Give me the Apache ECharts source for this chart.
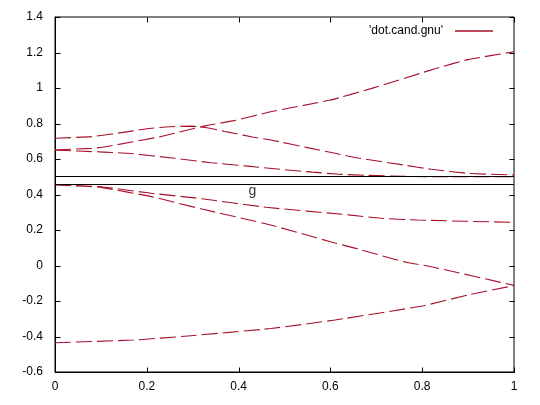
<!DOCTYPE html>
<html><head><meta charset="utf-8">
<script src="https://cdn.jsdelivr.net/npm/echarts@6/dist/echarts.min.js"></script>
<style>html,body{margin:0;padding:0;background:#fff}#c{width:540px;height:405px}</style>
</head><body><div id="c"></div>
<script>
// Data
const seriesName = "'dot.cand.gnu'";
const xTicks = [0, 0.2, 0.4, 0.6, 0.8, 1];
const yTicks = [-0.6, -0.4, -0.2, 0, 0.2, 0.4, 0.6, 0.8, 1, 1.2, 1.4];

const curveP_x = [0, 0.08, 0.16, 0.2, 0.25, 0.3, 0.34, 0.37, 0.39, 0.43, 0.47, 0.55, 0.61, 0.66, 0.76, 0.82, 0.9, 1.0];
const curveP_y = [0.717, 0.726, 0.754, 0.770, 0.782, 0.785, 0.772, 0.755, 0.745, 0.724, 0.707, 0.664, 0.632, 0.606, 0.566, 0.542, 0.519, 0.51];

const curveQ_x = [0, 0.08, 0.11, 0.23, 0.28, 0.33, 0.39, 0.47, 0.6, 0.69, 0.83, 0.9, 1.0];
const curveQ_y = [0.651, 0.66, 0.669, 0.726, 0.758, 0.788, 0.816, 0.866, 0.932, 0.998, 1.11, 1.160, 1.204];

const curveC_x = [0, 0.05, 0.16, 0.26, 0.34, 0.42, 0.49, 0.56, 0.62, 0.68, 0.77, 0.85, 1.0];
const curveC_y = [0.65, 0.645, 0.632, 0.604, 0.579, 0.56, 0.542, 0.526, 0.514, 0.508, 0.502, 0.5, 0.5];

const curveD_x = [0, 0.06, 0.1, 0.21, 0.32, 0.46, 0.64, 0.71, 0.79, 1.0];
const curveD_y = [0.455, 0.448, 0.444, 0.407, 0.376, 0.328, 0.285, 0.266, 0.256, 0.243];

const curveE_x = [0, 0.06, 0.1, 0.21, 0.32, 0.47, 0.6, 0.66, 0.76, 0.82, 1.0];
const curveE_y = [0.455, 0.448, 0.44, 0.388, 0.318, 0.228, 0.134, 0.093, 0.021, -0.007, -0.112];

const curveF_x = [0, 0.17, 0.29, 0.47, 0.61, 0.8, 0.9, 1.0];
const curveF_y = [-0.435, -0.42, -0.397, -0.355, -0.307, -0.228, -0.166, -0.113];

const breakLevels = [0.5, 0.46];
const gLabelText = 'g';
const gLabelPos = [0.43, 0.42];

const curves = [
  [curveP_x, curveP_y], [curveQ_x, curveQ_y], [curveC_x, curveC_y],
  [curveD_x, curveD_y], [curveE_x, curveE_y], [curveF_x, curveF_y]
];

const RED = '#a8102a';
const FONT = 'Liberation Sans';
const xMin = xTicks[0], xMax = xTicks[xTicks.length - 1];
const yMin = yTicks[0], yMax = yTicks[yTicks.length - 1];

const series = curves.map(([xs, ys]) => ({
  name: seriesName,
  type: 'line',
  data: xs.map((x, i) => [x, ys[i]]),
  showSymbol: false,
  symbol: 'none',
  smooth: 0.15,
  clip: true,
  color: RED,
  lineStyle: { color: RED, width: 1.1, type: [16, 5] },
  z: 3
}));

series.push({
  name: 'breaks',
  type: 'line',
  data: [],
  markLine: {
    silent: true,
    symbol: 'none',
    label: { show: false },
    lineStyle: { color: '#000', width: 1.2, type: 'solid' },
    data: breakLevels.map(v => ({ yAxis: v }))
  },
  z: 4
});

series.push({
  name: 'glabel',
  type: 'scatter',
  data: [gLabelPos],
  symbolSize: 0,
  label: { show: true, formatter: gLabelText, position: 'inside', color: '#000', fontFamily: FONT, fontSize: 14 },
  z: 5
});

// Mirror ticks on all four sides (gnuplot style, pointing inward), placed by the axis scales.
// side: 0 bottom, 1 top, 2 left, 3 right
const tickItems = [];
xTicks.forEach(x => { tickItems.push([x, yMin, 0]); tickItems.push([x, yMax, 1]); });
yTicks.forEach(y => { tickItems.push([xMin, y, 2]); tickItems.push([xMax, y, 3]); });
const TL = 5;
series.push({
  name: 'ticks',
  type: 'custom',
  data: tickItems,
  clip: false,
  silent: true,
  z: 6,
  renderItem: (params, api) => {
    const p = api.coord([api.value(0), api.value(1)]);
    const side = api.value(2);
    let x2 = p[0], y2 = p[1];
    if (side === 0) y2 -= TL; else if (side === 1) y2 += TL;
    else if (side === 2) x2 += TL; else x2 -= TL;
    return {
      type: 'line',
      shape: { x1: Math.round(p[0]) + 0.5, y1: Math.round(p[1]) + 0.5, x2: Math.round(x2) + 0.5, y2: Math.round(y2) + 0.5 },
      style: { stroke: '#000', lineWidth: 1 }
    };
  }
});

const mkLine = () => ({ show: true, onZero: false, lineStyle: { color: '#000', width: 1 } });

const chart = echarts.init(document.getElementById('c'), null, { renderer: 'canvas' });
chart.setOption({
  animation: false,
  backgroundColor: '#fff',
  grid: { left: 55, right: 26, top: 17, bottom: 33, show: true, borderColor: '#000', borderWidth: 1, backgroundColor: 'transparent' },
  legend: {
    data: [{ name: seriesName, icon: 'rect' }],
    right: 42, top: 20,
    align: 'right',
    itemWidth: 38, itemHeight: 1.5,
    textStyle: { fontFamily: FONT, fontSize: 12, color: '#000', padding: [0, 7, 0, 0] },
    itemStyle: { color: RED },
    selectedMode: false
  },
  xAxis: [
    { type: 'value', min: xMin, max: xMax, interval: 0.2,
      axisLine: mkLine(), splitLine: { show: false }, axisTick: { show: false },
      axisLabel: { fontFamily: FONT, fontSize: 12, color: '#000', margin: 9 } }
  ],
  yAxis: [
    { type: 'value', min: yMin, max: yMax, interval: 0.2,
      axisLine: mkLine(), splitLine: { show: false }, axisTick: { show: false },
      axisLabel: { fontFamily: FONT, fontSize: 12, color: '#000', margin: 12,
        formatter: v => String(Math.round(v * 10) / 10) } }
  ],
  series
});
</script>
</body></html>
